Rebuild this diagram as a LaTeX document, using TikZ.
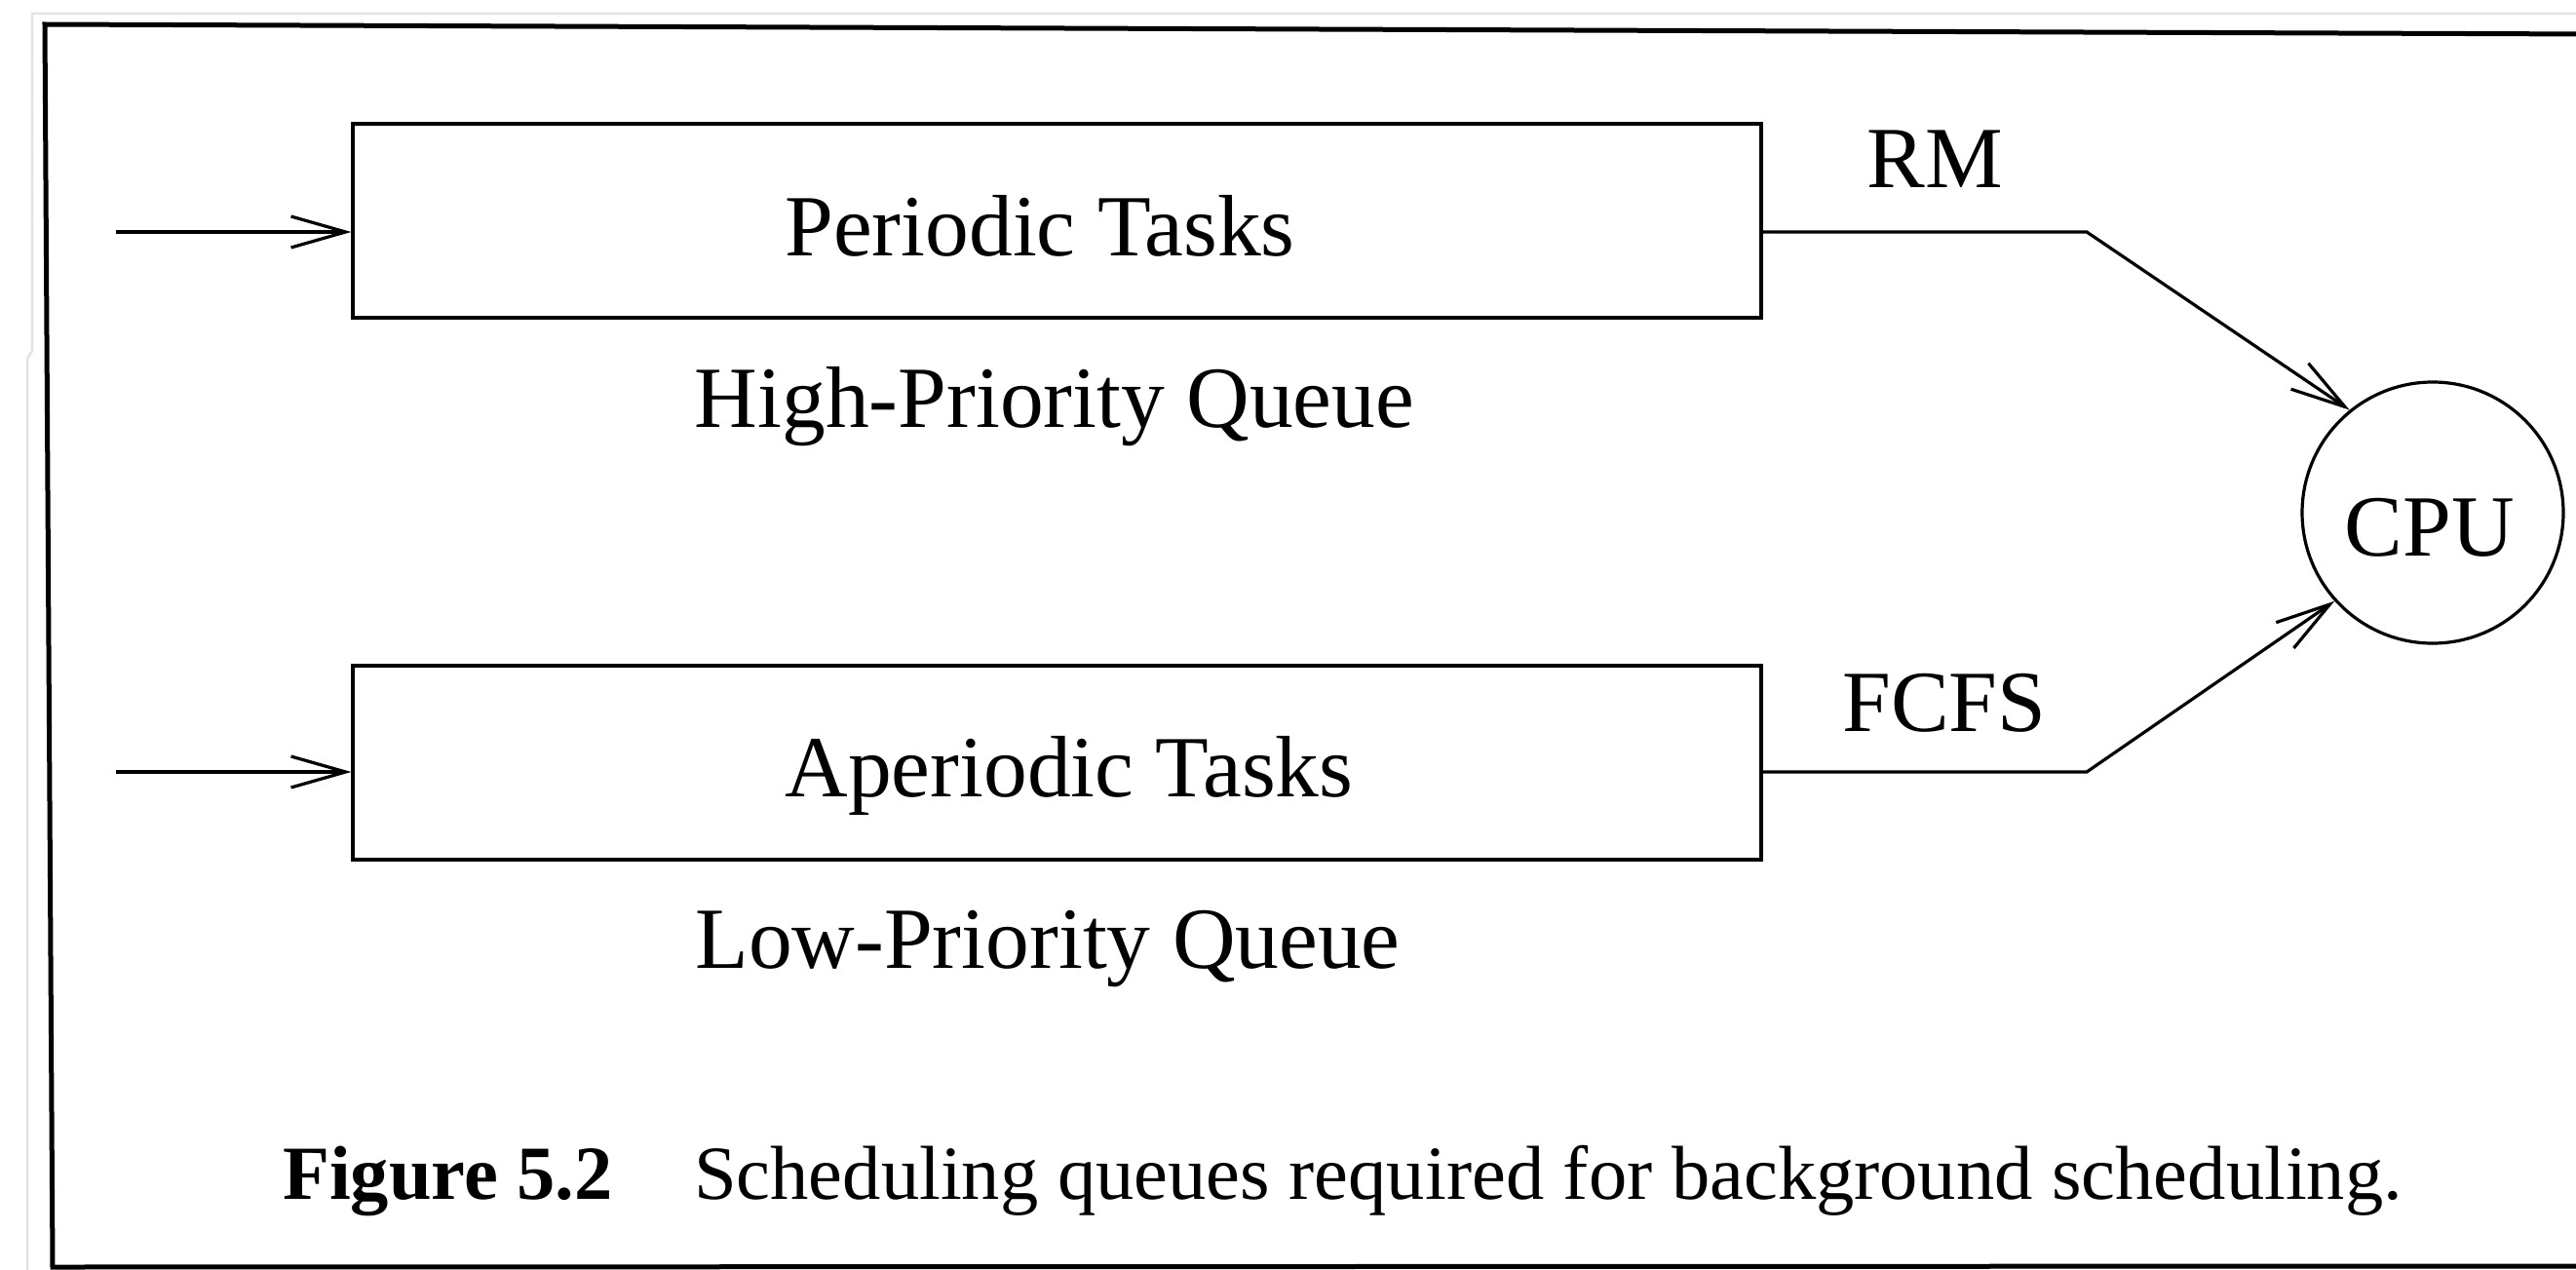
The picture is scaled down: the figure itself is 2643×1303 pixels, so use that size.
\documentclass[tikz,border=0pt]{standalone}
\usepackage{fontspec}
\setmainfont{Liberation Serif}
\usetikzlibrary{arrows.meta}
\begin{document}
\begin{tikzpicture}[x=1pt,y=-1pt,
  lbl/.style={inner sep=0pt,anchor=base,font=\fontsize{89.5}{100}\selectfont},
  captext/.style={inner sep=0pt,anchor=base west,font=\fontsize{78.5}{90}\selectfont},
  queue/.style={draw,line width=3.2pt,minimum width=1445pt,minimum height=199pt,inner sep=0pt},
  conn/.style={line width=3.2pt},
  arrowtip/.style={-{Straight Barb[length=56pt,width=32pt]}},
  frameline/.style={line width=5pt,line join=miter}]
\useasboundingbox (0,0) rectangle (2643,1303);
% faint outer page edge
\draw[gray!22,line width=2.5pt] (28,1303) -- (28,368) -- (33,360) -- (33,14) -- (2643,14);
% frame
\draw[frameline] (2660,35) -- (46,25) -- (54,1300) -- (2660,1299);
% queues
\node[queue] (pbox) at (1084.5,226.5) {};
\node[queue] (abox) at (1084.5,782.5) {};
\node[lbl] (ptext) at (1067,262) {Periodic Tasks};
\node[lbl] (atext) at (1097,817) {Aperiodic Tasks};
\node[lbl] (hq) at (1082,438) {High-Priority Queue};
\node[lbl] (lq) at (1075,993) {Low-Priority Queue};
% CPU
\node[circle,draw,line width=3.2pt,minimum size=268pt,inner sep=0pt] (cpu) at (2496,526) {};
\node[lbl] (cputext) at (2493,570) {CPU};
% policy labels
\node[lbl] (rm) at (1985,193) {RM};
\node[lbl] (fcfs) at (1995,750) {FCFS};
% inputs
\coordinate (in1) at (119,238);
\coordinate (in2) at (119,792);
\draw[conn,arrowtip] (in1) -- (in1 -| pbox.west);
\draw[conn,arrowtip] (in2) -- (in2 -| abox.west);
% outputs
\coordinate (b1) at (2141,238);
\coordinate (b2) at (2141,792);
\draw[conn,arrowtip,line join=miter] (b1 -| pbox.east) -- (b1) -- (cpu.129);
\draw[conn,arrowtip,line join=miter] (b2 -| abox.east) -- (b2) -- (cpu.222);
% caption
\node[captext,font=\fontsize{78.5}{90}\selectfont\bfseries] (figno) at (290,1230) {Figure 5.2};
\node[captext] (captxt) at (712,1230) {Scheduling queues required for background scheduling.};
\end{tikzpicture}
\end{document}
